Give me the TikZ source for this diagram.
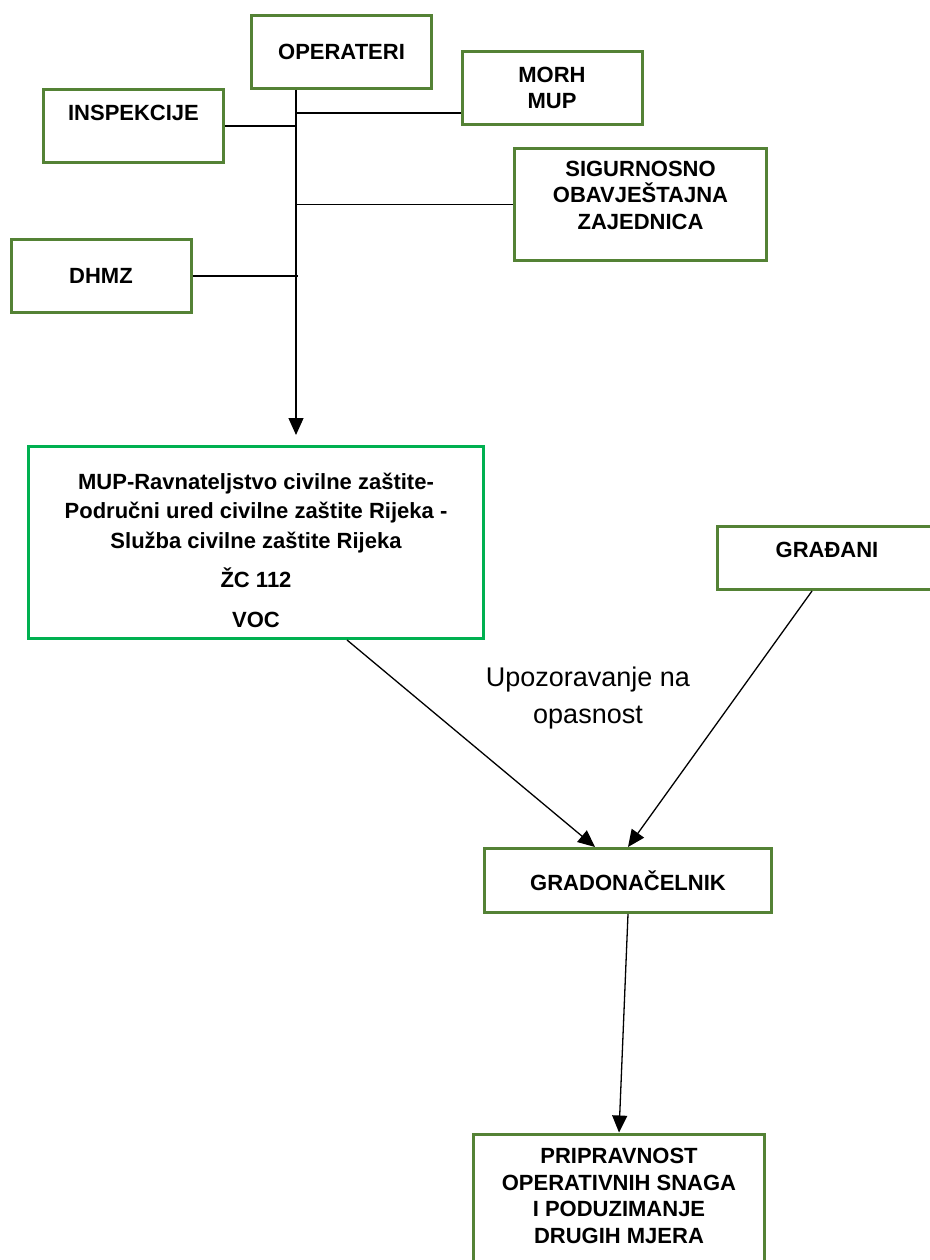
\documentclass[tikz,border=0pt]{standalone}
\usepackage{fontspec}
\setmainfont{Liberation Sans}
\usetikzlibrary{arrows.meta}
\definecolor{boxgreen}{RGB}{84,130,53}
\definecolor{vocgreen}{RGB}{0,176,80}

\begin{document}
\begin{tikzpicture}[x=1pt, y=-1pt,
    every node/.style={font=\fontsize{22}{26.5}\selectfont\bfseries, align=center},
    box/.style={draw=boxgreen, line width=3pt, inner sep=0pt},
    link/.style={line width=1.3pt},
    arrow/.style={line width=1.3pt, -{Triangle[length=17pt, width=15pt]}}]
    \useasboundingbox (0,0) rectangle (929,1260);

    % Sources of information
    \node[box, minimum width=180pt, minimum height=73pt] (operateri) at (341.5,52) {OPERATERI};
    \node[box, minimum width=180pt, minimum height=73pt] (inspekcije) at (133.5,126) {INSPEKCIJE\\~};
    \node[box, minimum width=180pt, minimum height=73pt] (morh) at (552,88) {MORH\\MUP};
    \node[box, minimum width=252pt, minimum height=112pt] (sigurnosno) at (640.5,204.5)
        {SIGURNOSNO\\OBAVJEŠTAJNA\\ZAJEDNICA\rule[-19pt]{0pt}{0pt}};
    \node[box, minimum width=180pt, minimum height=73pt] (dhmz) at (101,276) {DHMZ};

    % Vertical collecting line
    \coordinate (bus) at (296,0);
    \coordinate (jmorh) at (296,113);
    \draw[link] (inspekcije.east) -- (bus |- inspekcije.east);
    \draw[link] (jmorh) -- (jmorh -| morh.west);
    \draw[link] (bus |- sigurnosno.west) -- (sigurnosno.west);
    \draw[link] (dhmz.east) -- ([xshift=2pt]bus |- dhmz.east);

    % Civil protection office
    \node[box, draw=vocgreen, minimum width=455pt, minimum height=192pt] (mup) at (256,542.5)
        {\rule{0pt}{32pt}MUP-Ravnateljstvo civilne zaštite-\\[3pt]Područni ured civilne zaštite Rijeka -\\[3pt]Služba civilne zaštite Rijeka\\[13pt]ŽC 112\\[13pt]VOC};
    \draw[arrow, shorten >=10pt] (bus |- operateri.south) -- (bus |- mup.north);

    % Citizens and mayor
    \node[box, minimum width=219pt, minimum height=63pt] (gradjani) at (827,558) {GRAĐANI\rule[-17pt]{0pt}{0pt}};
    \node[box, minimum width=287pt, minimum height=64pt] (gradonacelnik) at (628,880.5) {GRADONAČELNIK};
    \node[font=\fontsize{27}{37}\selectfont] (upozorenje) at (588,698) {Upozoravanje na\\opasnost};

    \draw[arrow] ([xshift=91pt]mup.south) -- ([xshift=-33pt]gradonacelnik.north);
    \draw[arrow] ([xshift=-15pt]gradjani.south) -- (gradonacelnik.north);

    % Measures
    \node[box, minimum width=291pt, minimum height=150pt] (pripravnost) at (619,1209)
        {PRIPRAVNOST\\OPERATIVNIH SNAGA\\I PODUZIMANJE\\DRUGIH MJERA\\~};
    \draw[arrow] (gradonacelnik.south) -- (pripravnost.north);
\end{tikzpicture}
\end{document}
